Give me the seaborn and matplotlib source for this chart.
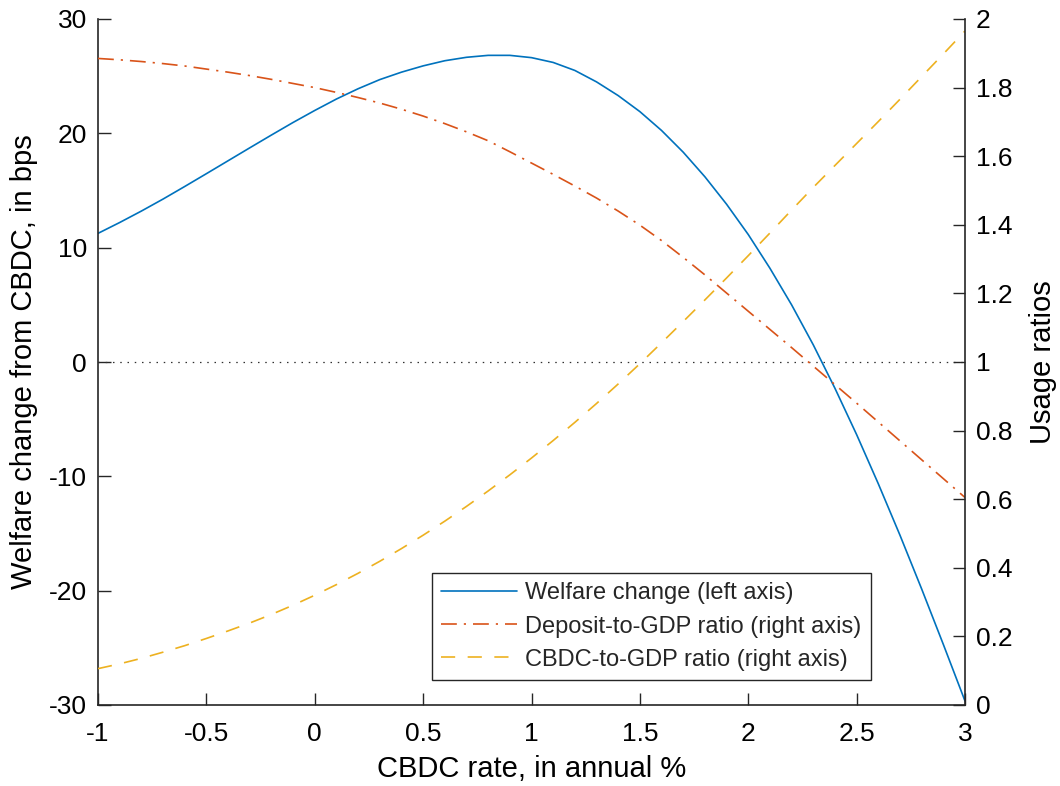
import matplotlib
matplotlib.use("Agg")
import matplotlib.pyplot as plt
import seaborn as sns
import pandas as pd

# CBDC interest rate grid (annual %)
cbdc_rate = [-1.0, -0.9, -0.8, -0.7, -0.6, -0.5, -0.4, -0.3, -0.2, -0.1,
             0.0, 0.1, 0.2, 0.3, 0.4, 0.5, 0.6, 0.7, 0.8, 0.9,
             1.0, 1.1, 1.2, 1.3, 1.4, 1.5, 1.6, 1.7, 1.8, 1.9,
             2.0, 2.1, 2.2, 2.3, 2.4, 2.5, 2.6, 2.7, 2.8, 2.9, 3.0]

# Welfare change from introducing CBDC, in basis points (left axis)
welfare_bps = [11.25, 12.2, 13.2, 14.25, 15.35, 16.47, 17.6, 18.73, 19.85, 20.95,
               22.0, 23.0, 23.9, 24.7, 25.35, 25.9, 26.35, 26.65, 26.82, 26.82,
               26.62, 26.2, 25.5, 24.5, 23.3, 21.9, 20.25, 18.35, 16.2, 13.8,
               11.15, 8.2, 5.0, 1.5, -2.3, -6.35, -10.65, -15.15, -19.85, -24.7, -29.65]

# Deposit-to-GDP ratio (right axis)
deposit_gdp = [1.885, 1.881, 1.876, 1.870, 1.863, 1.854, 1.845, 1.835, 1.824, 1.812,
               1.800, 1.786, 1.771, 1.755, 1.737, 1.717, 1.695, 1.671, 1.645, 1.613,
               1.580, 1.547, 1.513, 1.478, 1.440, 1.399, 1.354, 1.305, 1.254, 1.201,
               1.148, 1.095, 1.042, 0.988, 0.934, 0.880, 0.825, 0.770, 0.715, 0.660, 0.605]

# CBDC-to-GDP ratio (right axis)
cbdc_gdp = [0.106, 0.120, 0.136, 0.154, 0.173, 0.194, 0.216, 0.239, 0.264, 0.291,
            0.320, 0.351, 0.384, 0.419, 0.456, 0.495, 0.536, 0.579, 0.624, 0.671,
            0.720, 0.771, 0.824, 0.879, 0.936, 0.995, 1.056, 1.118, 1.181, 1.245,
            1.310, 1.376, 1.443, 1.509, 1.573, 1.637, 1.701, 1.766, 1.832, 1.898, 1.965]

x_ticks = [-1, -0.5, 0, 0.5, 1, 1.5, 2, 2.5, 3]
x_tick_labels = ["-1", "-0.5", "0", "0.5", "1", "1.5", "2", "2.5", "3"]
left_ticks = [-30, -20, -10, 0, 10, 20, 30]
left_tick_labels = ["-30", "-20", "-10", "0", "10", "20", "30"]
right_ticks = [0, 0.2, 0.4, 0.6, 0.8, 1.0, 1.2, 1.4, 1.6, 1.8, 2.0]
right_tick_labels = ["0", "0.2", "0.4", "0.6", "0.8", "1", "1.2", "1.4", "1.6", "1.8", "2"]
zero_level = 0

df = pd.DataFrame({"rate": cbdc_rate, "welfare": welfare_bps,
                   "deposit": deposit_gdp, "cbdc": cbdc_gdp})

sns.set_theme(style="white")
plt.rcParams["font.family"] = ["Liberation Sans", "DejaVu Sans"]
plt.rcParams["axes.unicode_minus"] = False

BLUE = "#0072BD"
RED = "#D95319"
YELLOW = "#EDB120"
SPINE = "#262626"

fig = plt.figure(figsize=(10.6, 7.86), dpi=100)
ax = fig.add_axes([98 / 1060, 81 / 786, 867 / 1060, 686 / 786])
ax2 = ax.twinx()

ax.axhline(zero_level, color="#303030", linewidth=0.9,
           linestyle=(0, (1.2, 4.6)), zorder=1)

sns.lineplot(data=df, x="rate", y="welfare", ax=ax, color=BLUE,
             linewidth=1.2, label="Welfare change (left axis)", legend=False)
sns.lineplot(data=df, x="rate", y="deposit", ax=ax2, color=RED,
             linewidth=1.2, linestyle=(0, (9.5, 4.2, 1.3, 4.2)),
             label="Deposit-to-GDP ratio (right axis)", legend=False)
sns.lineplot(data=df, x="rate", y="cbdc", ax=ax2, color=YELLOW,
             linewidth=1.2, linestyle=(0, (8.5, 7.5)),
             label="CBDC-to-GDP ratio (right axis)", legend=False)

ax.set_xlim(-1, 3)
ax.set_ylim(-30, 30)
ax2.set_ylim(0, 2)

ax.set_xticks(x_ticks)
ax.set_xticklabels(x_tick_labels)
ax.set_yticks(left_ticks)
ax.set_yticklabels(left_tick_labels)
ax2.set_yticks(right_ticks)
ax2.set_yticklabels(right_tick_labels)

tick_font = 19
ax.tick_params(axis="x", direction="in", length=9, width=1.0, color=SPINE,
               labelsize=tick_font, labelcolor="black", pad=12, bottom=True, top=False)
ax.tick_params(axis="y", direction="in", length=9, width=1.0, color=SPINE,
               labelsize=tick_font, labelcolor="black", pad=8, left=True, right=False)
ax2.tick_params(axis="y", direction="in", length=9, width=1.0, color=SPINE,
                labelsize=tick_font, labelcolor="black", pad=8, right=True, left=False)

for a in (ax, ax2):
    a.spines["top"].set_visible(False)
    for s in a.spines.values():
        s.set_color(SPINE)
        s.set_linewidth(1.2)
ax.spines["right"].set_visible(False)
ax2.spines["left"].set_visible(False)
ax2.spines["bottom"].set_visible(False)
ax.grid(False)
ax2.grid(False)

label_font = 21
ax.set_xlabel("CBDC rate, in annual %", fontsize=label_font, color="black",
              va="center")
ax.set_ylabel("Welfare change from CBDC, in bps", fontsize=label_font,
              color="black", va="center")
ax2.set_ylabel("Usage ratios", fontsize=label_font, color="black", va="center")
ax.xaxis.set_label_coords(0.5, -0.094)
ax.yaxis.set_label_coords(-0.0854, 0.5)
ax2.yaxis.set_label_coords(1.090, 0.5)

handles = ax.get_lines()[1:] + ax2.get_lines()
labels = [h.get_label() for h in handles]
leg = ax2.legend(handles, labels, loc="upper left",
                 bbox_to_anchor=(0.385, 0.1924), borderaxespad=0,
                 fontsize=17, frameon=True, fancybox=False,
                 handlelength=3.2, handletextpad=0.35, labelspacing=0.47,
                 borderpad=0.4)
leg.get_frame().set_edgecolor(SPINE)
leg.get_frame().set_linewidth(1.0)
leg.get_frame().set_alpha(1.0)

fig.savefig("out.png", dpi=100, facecolor="white")
